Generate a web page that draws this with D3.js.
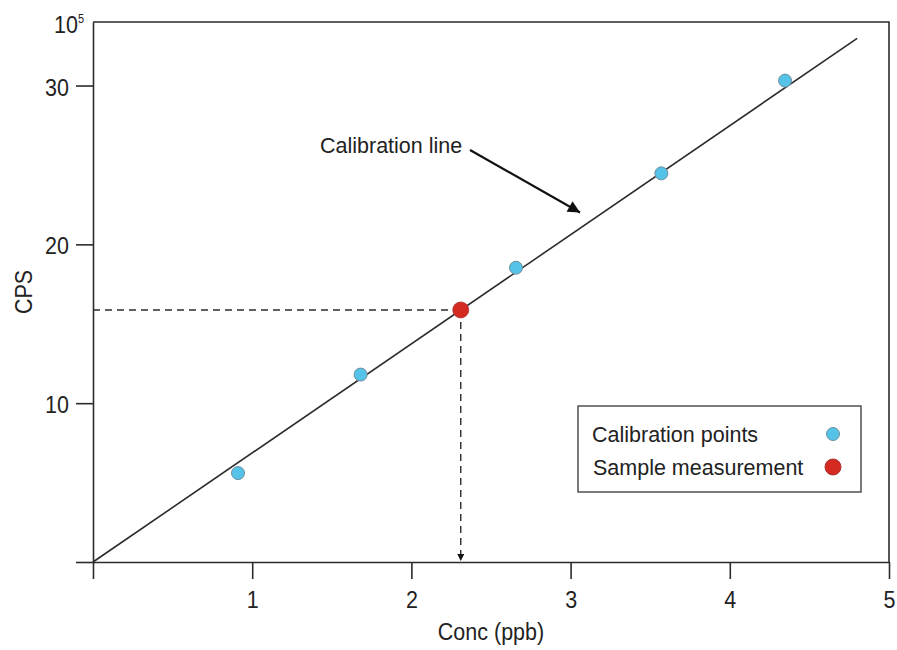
<!DOCTYPE html>
<html>
<head>
<meta charset="utf-8">
<script src="https://cdn.jsdelivr.net/npm/d3@7"></script>
<style>
  html, body { margin: 0; padding: 0; background: #fff; }
  svg { display: block; font-family: "Liberation Sans", Arial, sans-serif; }
</style>
</head>
<body>
<svg id="chart" width="897" height="650"></svg>
<script>
// Calibration standards (concentration in ppb, counts per second in units of 10^5)
const calConc = [0.911, 1.681, 2.657, 3.570, 4.347];
const calCps = [5.60, 11.80, 18.53, 24.47, 30.31];

// Unknown sample
const sampleConc = [2.31];
const sampleCps = [15.87];

// Fitted calibration line endpoints
const lineConc = [0, 4.80];
const lineCps = [0, 32.97];

// Axis ticks
const xTicks = [0, 1, 2, 3, 4, 5];
const xTickLabels = ["", "1", "2", "3", "4", "5"];
const yTicks = [0, 10, 20, 30];
const yTickLabels = ["", "10", "20", "30"];

const legendLabels = ["Calibration points", "Sample measurement"];
const legendColors = ["#55c2e8", "#d42a22"];

const svg = d3.select("#chart");
const ink = "#2b2b2b";
const fontSize = 21.5;
const tall = 1.15; // axis lettering is drawn slightly elongated

const plotLeft = 93, plotRight = 889, plotTop = 22, plotBottom = 562;
const x = d3.scaleLinear().domain([0, 5]).range([plotLeft, plotRight]);
const y = d3.scaleLinear().domain([0, 34]).range([plotBottom, plotTop]);

// Arrowhead markers
const defs = svg.append("defs");
defs.append("marker")
  .attr("id", "head")
  .attr("viewBox", "0 0 10 10")
  .attr("refX", 10).attr("refY", 5)
  .attr("markerWidth", 17).attr("markerHeight", 12)
  .attr("markerUnits", "userSpaceOnUse")
  .attr("orient", "auto")
  .append("path").attr("d", "M0,0 L10,5 L0,10 Z").attr("fill", "#111");
defs.append("marker")
  .attr("id", "smallHead")
  .attr("viewBox", "0 0 10 10")
  .attr("refX", 10).attr("refY", 5)
  .attr("markerWidth", 8).attr("markerHeight", 7)
  .attr("markerUnits", "userSpaceOnUse")
  .attr("orient", "auto")
  .append("path").attr("d", "M0,0 L10,5 L0,10 Z").attr("fill", "#111");

// Plot frame (top and right edges)
svg.append("path")
  .attr("d", `M${plotLeft},${plotTop} H${plotRight} V${plotBottom}`)
  .attr("fill", "none").attr("stroke", ink).attr("stroke-width", 1.6);

// X axis
const xAxis = svg.append("g")
  .attr("transform", `translate(0,${plotBottom})`)
  .call(d3.axisBottom(x).tickValues(xTicks).tickSize(17).tickSizeOuter(0)
    .tickFormat((d, i) => xTickLabels[i]));
xAxis.select(".domain").attr("stroke", ink).attr("stroke-width", 1.6);
xAxis.selectAll(".tick line").attr("stroke", ink).attr("stroke-width", 1.6);
xAxis.selectAll(".tick text")
  .attr("fill", "#222").attr("font-size", fontSize)
  .attr("x", 0).attr("y", 0).attr("dy", 0)
  .attr("transform", `translate(0,46) scale(1,${tall})`)
  .attr("font-family", "Liberation Sans, Arial, sans-serif");

// Y axis
const yAxis = svg.append("g")
  .attr("transform", `translate(${plotLeft},0)`)
  .call(d3.axisLeft(y).tickValues(yTicks).tickSize(17).tickSizeOuter(0)
    .tickFormat((d, i) => yTickLabels[i]));
yAxis.select(".domain").attr("stroke", ink).attr("stroke-width", 1.6);
yAxis.selectAll(".tick line").attr("stroke", ink).attr("stroke-width", 1.6);
yAxis.selectAll(".tick text")
  .attr("fill", "#222").attr("font-size", fontSize)
  .attr("x", 0).attr("y", 0).attr("dy", 0)
  .attr("transform", `translate(-24,9.5) scale(1,${tall})`)
  .attr("font-family", "Liberation Sans, Arial, sans-serif");

// Axis multiplier at the top of the CPS axis
const mult = svg.append("text")
  .attr("transform", `translate(84,33) scale(1,${tall})`)
  .attr("text-anchor", "end")
  .attr("font-size", fontSize).attr("fill", "#222");
mult.append("tspan").text("10");
mult.append("tspan").attr("dy", -9).attr("font-size", 11).text("5");

// Axis titles
svg.append("text")
  .attr("transform", `translate(${(plotLeft + plotRight) / 2},640) scale(1,${tall})`)
  .attr("text-anchor", "middle")
  .attr("font-size", fontSize).attr("fill", "#222")
  .text("Conc (ppb)");
svg.append("text")
  .attr("transform", `translate(32,${y(17)}) rotate(-90) scale(1,${tall})`)
  .attr("text-anchor", "middle")
  .attr("font-size", fontSize).attr("fill", "#222")
  .text("CPS");

// Calibration line
svg.append("line")
  .attr("x1", x(lineConc[0])).attr("y1", y(lineCps[0]))
  .attr("x2", x(lineConc[1])).attr("y2", y(lineCps[1]))
  .attr("stroke", ink).attr("stroke-width", 1.6);

// Dashed read-off guides for the sample
svg.append("line")
  .attr("x1", x(0)).attr("y1", y(sampleCps[0]))
  .attr("x2", x(sampleConc[0])).attr("y2", y(sampleCps[0]))
  .attr("stroke", ink).attr("stroke-width", 1.4).attr("stroke-dasharray", "7,5");
svg.append("line")
  .attr("x1", x(sampleConc[0])).attr("y1", y(sampleCps[0]))
  .attr("x2", x(sampleConc[0])).attr("y2", y(0) - 1)
  .attr("stroke", ink).attr("stroke-width", 1.4).attr("stroke-dasharray", "7,5")
  .attr("marker-end", "url(#smallHead)");

// Calibration points
svg.append("g").selectAll("circle")
  .data(calConc.map((c, i) => [c, calCps[i]]))
  .join("circle")
  .attr("cx", d => x(d[0])).attr("cy", d => y(d[1]))
  .attr("r", 6.5)
  .attr("fill", legendColors[0]).attr("stroke", "#6f8f9c").attr("stroke-width", 1);

// Sample point
svg.append("g").selectAll("circle")
  .data(sampleConc.map((c, i) => [c, sampleCps[i]]))
  .join("circle")
  .attr("cx", d => x(d[0])).attr("cy", d => y(d[1]))
  .attr("r", 8)
  .attr("fill", legendColors[1]).attr("stroke", "#a33").attr("stroke-width", 0.8);

// Annotation pointing at the line
svg.append("text")
  .attr("x", 320).attr("y", 153)
  .attr("font-size", fontSize).attr("fill", "#222")
  .text("Calibration line");
svg.append("line")
  .attr("x1", 470).attr("y1", 150)
  .attr("x2", 580).attr("y2", 212.5)
  .attr("stroke", "#111").attr("stroke-width", 2.2)
  .attr("marker-end", "url(#head)");

// Legend
const legend = svg.append("g");
legend.append("rect")
  .attr("x", 578).attr("y", 406).attr("width", 283).attr("height", 86)
  .attr("fill", "#fff").attr("stroke", "#444").attr("stroke-width", 1.4);
const rows = legend.selectAll("g.row")
  .data(legendLabels)
  .join("g").attr("class", "row")
  .attr("transform", (d, i) => `translate(0,${434 + i * 33})`);
rows.append("text")
  .attr("x", (d, i) => i === 0 ? 592 : 593).attr("y", 7.5)
  .attr("font-size", fontSize).attr("fill", "#222")
  .text(d => d);
rows.append("circle")
  .attr("cx", 833).attr("cy", 0)
  .attr("r", (d, i) => i === 0 ? 6.5 : 8)
  .attr("fill", (d, i) => legendColors[i])
  .attr("stroke", (d, i) => i === 0 ? "#6f8f9c" : "#a33").attr("stroke-width", 1);
</script>
</body>
</html>
